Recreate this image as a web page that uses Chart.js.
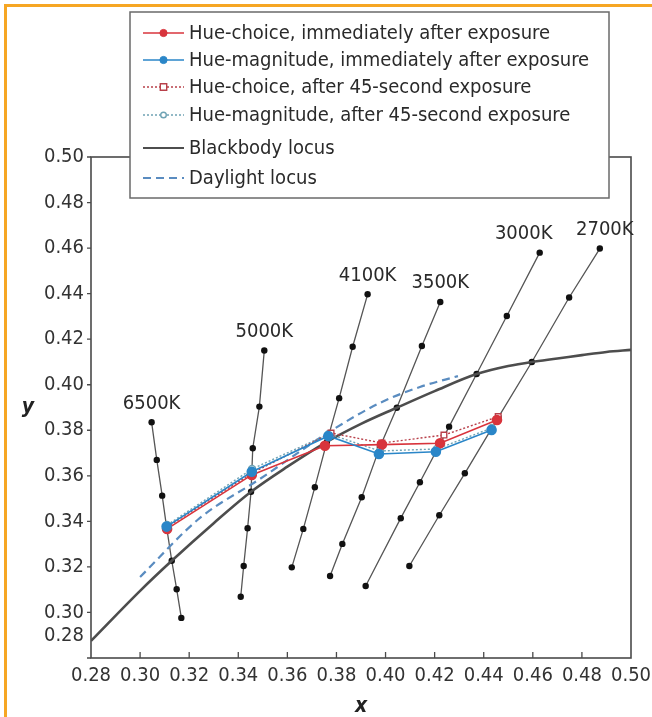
<!DOCTYPE html>
<html lang="en">
<head>
  <meta charset="UTF-8">
  <title>Hue judgements vs. blackbody and daylight loci</title>
  <style>
    html, body { margin: 0; padding: 0; background: #fff; }
    #wrap { position: relative; width: 652px; height: 717px; overflow: hidden; }
    #wrap canvas { position: absolute; left: 0; top: 0; }
    #frame { position: absolute; left: 4px; top: 4px; right: -10px; bottom: -10px;
             border-top: 3px solid #f6a623; border-left: 3px solid #f6a623; pointer-events: none; }
  </style>
  <script src="https://cdn.jsdelivr.net/npm/chart.js"></script>
</head>
<body>
  <div id="wrap">
    <canvas id="chart" width="652" height="717"></canvas>
    <div id="frame"></div>
  </div>

  <script>
    // axis ticks
    const xTicks = [0.28, 0.30, 0.32, 0.34, 0.36, 0.38, 0.40, 0.42, 0.44, 0.46, 0.48, 0.50];
    const yTicks = [0.28, 0.30, 0.32, 0.34, 0.36, 0.38, 0.40, 0.42, 0.44, 0.46, 0.48, 0.50];

    // isotemperature lines (CCT)
    const cctNames = ['6500K', '5000K', '4100K', '3500K', '3000K', '2700K'];
    const iso6500x = [0.3047, 0.3068, 0.3090, 0.3108, 0.3129, 0.3149, 0.3168];
    const iso6500y = [0.3835, 0.3670, 0.3513, 0.3375, 0.3227, 0.3102, 0.2976];
    const iso5000x = [0.3506, 0.3486, 0.3459, 0.3452, 0.3438, 0.3422, 0.3410];
    const iso5000y = [0.4150, 0.3904, 0.3721, 0.3530, 0.3370, 0.3204, 0.3069];
    const iso4100x = [0.3927, 0.3866, 0.3811, 0.3761, 0.3712, 0.3665, 0.3618];
    const iso4100y = [0.4397, 0.4167, 0.3941, 0.3749, 0.3550, 0.3367, 0.3198];
    const iso3500x = [0.4223, 0.4148, 0.4046, 0.3977, 0.3903, 0.3824, 0.3774];
    const iso3500y = [0.4363, 0.4170, 0.3899, 0.3727, 0.3506, 0.3301, 0.3160];
    const iso3000x = [0.4628, 0.4494, 0.4371, 0.4259, 0.4140, 0.4062, 0.3919];
    const iso3000y = [0.4580, 0.4302, 0.4047, 0.3816, 0.3572, 0.3414, 0.3116];
    const iso2700x = [0.4873, 0.4748, 0.4596, 0.4460, 0.4323, 0.4219, 0.4097];
    const iso2700y = [0.4598, 0.4383, 0.4100, 0.3858, 0.3611, 0.3427, 0.3204];
    const isoX = [iso6500x, iso5000x, iso4100x, iso3500x, iso3000x, iso2700x];
    const isoY = [iso6500y, iso5000y, iso4100y, iso3500y, iso3000y, iso2700y];

    // hue judgements, one point per CCT
    const choiceNowX = [0.3110, 0.3455, 0.3753, 0.3985, 0.4222, 0.4454];
    const choiceNowY = [0.3367, 0.3604, 0.3732, 0.3737, 0.3743, 0.3845];
    const magNowX    = [0.3108, 0.3455, 0.3767, 0.3973, 0.4205, 0.4432];
    const magNowY    = [0.3377, 0.3618, 0.3775, 0.3696, 0.3706, 0.3801];
    const choice45X  = [0.3110, 0.3456, 0.3778, 0.3985, 0.4238, 0.4459];
    const choice45Y  = [0.3375, 0.3612, 0.3788, 0.3744, 0.3779, 0.3860];
    const mag45X     = [0.3110, 0.3456, 0.3769, 0.3977, 0.4209, 0.4433];
    const mag45Y     = [0.3384, 0.3630, 0.3784, 0.3709, 0.3718, 0.3810];

    // loci
    const blackbodyX = [0.28, 0.30, 0.3129, 0.33, 0.3452, 0.36, 0.3761, 0.39, 0.4046, 0.42, 0.4371, 0.45, 0.4596, 0.47, 0.48, 0.49, 0.50];
    const blackbodyY = [0.2875, 0.3095, 0.3227, 0.3392, 0.3530, 0.3640, 0.3749, 0.3828, 0.3899, 0.3972, 0.4047, 0.4082, 0.4100, 0.4115, 0.4130, 0.4144, 0.4153];
    const daylightX  = [0.3000, 0.3244, 0.3488, 0.3774, 0.3977, 0.4140, 0.4295];
    const daylightY  = [0.3156, 0.3415, 0.3586, 0.3795, 0.3920, 0.3990, 0.4038];

    const FONT = "'DejaVu Sans Condensed', 'DejaVu Sans', sans-serif";
    const RED = '#d8343c';
    const BLUE = '#2a86c8';
    const pts = (xs, ys) => xs.map((x, i) => ({ x, y: ys[i] }));

    // lower "order" is drawn on top
    const datasets = [
      { label: 'Hue-choice, immediately after exposure', data: pts(choiceNowX, choiceNowY), order: 1,
        borderColor: RED, borderWidth: 1.6, pointStyle: 'circle', pointRadius: 4.5,
        pointBackgroundColor: RED, pointBorderColor: RED },
      { label: 'Hue-magnitude, immediately after exposure', data: pts(magNowX, magNowY), order: 0,
        borderColor: BLUE, borderWidth: 1.6, pointStyle: 'circle', pointRadius: 4.5,
        pointBackgroundColor: BLUE, pointBorderColor: BLUE },
      { label: 'Hue-choice, after 45-second exposure', data: pts(choice45X, choice45Y), order: 2,
        borderColor: '#b8404a', borderWidth: 1.4, borderDash: [2, 2], pointStyle: 'rect', pointRadius: 4,
        pointBackgroundColor: '#fff', pointBorderColor: '#b8404a', pointBorderWidth: 1.4 },
      { label: 'Hue-magnitude, after 45-second exposure', data: pts(mag45X, mag45Y), order: 3,
        borderColor: '#6fa3b4', borderWidth: 1.4, borderDash: [2, 2], pointStyle: 'circle', pointRadius: 3.5,
        pointBackgroundColor: '#fff', pointBorderColor: '#6fa3b4', pointBorderWidth: 1.4 },
      { label: 'Blackbody locus', data: pts(blackbodyX, blackbodyY), order: 4,
        borderColor: '#4d4d4d', borderWidth: 2.6, pointRadius: 0, cubicInterpolationMode: 'monotone' },
      { label: 'Daylight locus', data: pts(daylightX, daylightY), order: 5,
        borderColor: '#5a8cc0', borderWidth: 2.2, borderDash: [8, 5], pointRadius: 0, cubicInterpolationMode: 'monotone' }
    ];
    cctNames.forEach((name, i) => {
      datasets.push({
        label: name, iso: true, order: 6, data: pts(isoX[i], isoY[i]),
        borderColor: '#555', borderWidth: 1.3, pointRadius: 3.2,
        pointBackgroundColor: '#111', pointBorderWidth: 0
      });
    });
    datasets.forEach(d => { d.showLine = true; d.fill = false; });

    // frame, extra ticks, CCT labels, shifted 0.28 label, y title, legend box
    const decor = {
      id: 'decor',
      beforeDatasetsDraw(chart) {
        const { ctx, chartArea: a, scales: { x, y } } = chart;
        ctx.save();
        ctx.strokeStyle = '#4a4a4a';
        ctx.lineWidth = 1.6;
        ctx.strokeRect(a.left, a.top, a.right - a.left, a.bottom - a.top);
        ctx.lineWidth = 1.3;
        ctx.beginPath();
        yTicks.forEach(v => {
          const py = y.getPixelForValue(v);
          ctx.moveTo(a.left - 4, py); ctx.lineTo(a.left, py);
        });
        xTicks.slice(1, -1).forEach(v => {
          const px = x.getPixelForValue(v);
          ctx.moveTo(px, a.bottom); ctx.lineTo(px, a.bottom - 6);
        });
        ctx.stroke();
        ctx.restore();
      },
      afterDraw(chart) {
        const { ctx, chartArea: a, scales: { x, y } } = chart;
        ctx.save();
        // CCT labels above each isotherm
        const shift = { '3000K': -16, '2700K': 5 };
        ctx.font = '20px ' + FONT;
        ctx.fillStyle = '#2a2a2a';
        ctx.textAlign = 'center';
        ctx.textBaseline = 'middle';
        cctNames.forEach((name, i) => {
          const px = x.getPixelForValue(isoX[i][0]) + (shift[name] || 0);
          const py = y.getPixelForValue(isoY[i][0]) - 19;
          ctx.fillText(name, px, py);
        });
        // lowest y tick label sits above the corner
        ctx.textAlign = 'right';
        ctx.fillStyle = '#333';
        ctx.fillText(yTicks[0].toFixed(2), a.left - 7, y.getPixelForValue(yTicks[0]) - 22);
        // y axis title, upright
        ctx.font = 'italic bold 21px ' + FONT;
        ctx.textAlign = 'center';
        ctx.fillStyle = '#222';
        ctx.fillText('y', 28, (a.top + a.bottom) / 2);

        // legend
        const L = { left: 130, top: 12, w: 479, h: 186 };
        const rows = [33, 60, 87, 115, 148, 178];
        ctx.fillStyle = '#fff';
        ctx.fillRect(L.left, L.top, L.w, L.h);
        ctx.strokeStyle = '#6a6a6a';
        ctx.lineWidth = 1.5;
        ctx.strokeRect(L.left, L.top, L.w, L.h);
        chart.data.datasets.filter(d => !d.iso).forEach((d, i) => {
          const ry = rows[i];
          ctx.setLineDash(d.borderDash || []);
          ctx.strokeStyle = d.borderColor;
          ctx.lineWidth = Math.min(d.borderWidth, 2.2);
          ctx.beginPath();
          ctx.moveTo(143, ry); ctx.lineTo(184, ry);
          ctx.stroke();
          ctx.setLineDash([]);
          if (d.pointRadius > 0) {
            const r = d.pointRadius * 0.8;
            ctx.fillStyle = d.pointBackgroundColor;
            ctx.strokeStyle = d.pointBorderColor;
            ctx.lineWidth = d.pointBorderWidth || 1;
            ctx.beginPath();
            if (d.pointStyle === 'rect') ctx.rect(163.5 - r, ry - r, 2 * r, 2 * r);
            else ctx.arc(163.5, ry, r, 0, Math.PI * 2);
            ctx.fill();
            ctx.stroke();
          }
          ctx.font = '20px ' + FONT;
          ctx.fillStyle = '#2a2a2a';
          ctx.textAlign = 'left';
          ctx.textBaseline = 'middle';
          ctx.fillText(d.label, 189, ry + 1);
        });
        ctx.restore();
      }
    };

    new Chart(document.getElementById('chart'), {
      type: 'scatter',
      data: { datasets },
      options: {
        responsive: false,
        animation: false,
        devicePixelRatio: 1,
        layout: { padding: { top: 157, right: 21, bottom: 0, left: 0 } },
        plugins: { legend: { display: false }, tooltip: { enabled: false } },
        scales: {
          x: {
            type: 'linear', min: 0.28, max: 0.50,
            afterBuildTicks: s => { s.ticks = xTicks.map(v => ({ value: v })); },
            afterFit: s => { s.height = 59; s.paddingLeft = 0; s.paddingRight = 0; },
            grid: { display: false, drawTicks: false },
            border: { display: false },
            ticks: { padding: 6, color: '#333', font: { family: FONT, size: 20 },
                     callback: v => v.toFixed(2) },
            title: { display: true, text: 'x', color: '#222', padding: { top: 0, bottom: 0 },
                     font: { family: FONT, size: 21, weight: 'bold', style: 'italic', lineHeight: 1 } }
          },
          y: {
            type: 'linear', min: 0.28, max: 0.50,
            afterBuildTicks: s => { s.ticks = yTicks.map(v => ({ value: v })); },
            afterFit: s => { s.width = 91; s.paddingTop = 0; s.paddingBottom = 0; },
            grid: { display: false, drawTicks: false },
            border: { display: false },
            ticks: { padding: 7, color: '#333', font: { family: FONT, size: 20 },
                     callback: v => (Math.abs(v - yTicks[0]) < 1e-9 ? '' : v.toFixed(2)) }
          }
        }
      },
      plugins: [decor]
    });
  </script>
</body>
</html>
